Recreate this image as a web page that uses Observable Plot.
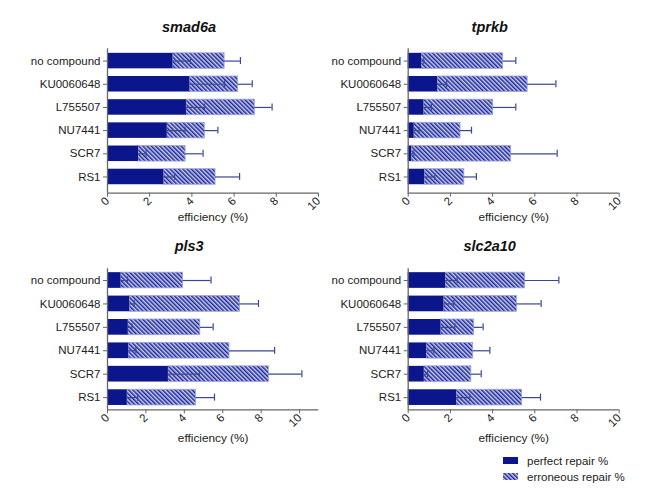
<!DOCTYPE html>
<html><head><meta charset="utf-8">
<script src="https://cdn.jsdelivr.net/npm/d3@7"></script>
<script src="https://cdn.jsdelivr.net/npm/@observablehq/plot@0.6"></script>
<style>
body{margin:0;background:#fff;font-family:"Liberation Sans",Arial,Helvetica,sans-serif;}
#root{position:relative;width:672px;height:491px;overflow:hidden;background:#fff;}
.panel{position:absolute;overflow:visible !important;}
.lg{position:absolute;font-size:11.5px;color:#222;line-height:14px;white-space:nowrap;}
.sw{position:absolute;width:15px;height:7px;}
</style></head><body>
<svg width="0" height="0" style="position:absolute">
<defs><pattern id="hatch" patternUnits="userSpaceOnUse" width="3" height="3" patternTransform="rotate(-45)">
<rect width="3" height="3" fill="#cdd1f2"/><rect width="1.5" height="3" fill="#1a2596"/></pattern></defs></svg>
<div id="root"></div>
<script>
// ---- data ----
const categories = ["no compound","KU0060648","L755507","NU7441","SCR7","RS1"];
const genes = ["smad6a","tprkb","pls3","slc2a10"];
const seriesNames = ["perfect repair %","erroneous repair %"];
const xTicksTop = [0,2,4,6,8,10];
const xTicksPls3 = [0,2,4,6,8,10];

const perfect_smad6a   = [3.10, 3.90, 3.74, 2.83, 1.47, 2.67];
const erroneous_smad6a = [2.45, 2.29, 3.24, 1.78, 2.23, 2.45];
const perfectErr_smad6a   = [0.83, 1.65, 0.86, 0.84, 0.36, 0.51];
const erroneousErr_smad6a = [0.75, 0.67, 0.82, 0.62, 0.83, 1.14];

const perfect_tprkb   = [0.63, 1.39, 0.74, 0.28, 0.16, 0.78];
const erroneous_tprkb = [3.87, 4.27, 3.29, 2.20, 4.72, 1.88];
const perfectErr_tprkb   = [0.11, 0.43, 0.36, 0.24, 0.11, 0.48];
const erroneousErr_tprkb = [0.60, 1.34, 1.07, 0.52, 2.18, 0.57];

const perfect_pls3   = [0.70, 1.15, 1.08, 1.10, 3.17, 1.03];
const erroneous_pls3 = [3.23, 5.74, 3.75, 5.25, 5.23, 3.58];
const perfectErr_pls3   = [0.34, 0.24, 0.19, 0.38, 1.61, 0.54];
const erroneousErr_pls3 = [1.46, 0.97, 0.67, 2.35, 1.72, 0.96];

const perfect_slc2a10   = [1.77, 1.69, 1.55, 0.87, 0.76, 2.29];
const erroneous_slc2a10 = [3.77, 3.46, 1.58, 2.21, 2.23, 3.11];
const perfectErr_slc2a10   = [0.55, 0.47, 0.66, 0.35, 0.16, 0.63];
const erroneousErr_slc2a10 = [1.60, 1.15, 0.42, 0.79, 0.47, 0.87];

const dataByGene = {
  smad6a: [perfect_smad6a, erroneous_smad6a, perfectErr_smad6a, erroneousErr_smad6a],
  tprkb: [perfect_tprkb, erroneous_tprkb, perfectErr_tprkb, erroneousErr_tprkb],
  pls3: [perfect_pls3, erroneous_pls3, perfectErr_pls3, erroneousErr_pls3],
  slc2a10: [perfect_slc2a10, erroneous_slc2a10, perfectErr_slc2a10, erroneousErr_slc2a10]
};

// ---- layout ----
const NAVY = "#0c168c";
const ERR = "#3a4796";
const AXIS = "#666";
const FONT = "'Liberation Sans', Arial, Helvetica, sans-serif";
const layouts = [
  {gene:"smad6a", left:0,   top:0,   mL:107,  mR:18,   mT:48.3, mB:37.3, xMax:10, ticks:xTicksTop, yDom:[-0.53,5.70], labDy:24, titleDy:-21.5},
  {gene:"tprkb",  left:336, top:0,   mL:71.7, mR:53.3, mT:48.3, mB:37.3, xMax:10, ticks:xTicksTop, yDom:[-0.53,5.70], labDy:24, titleDy:-21.5},
  {gene:"pls3",   left:0,   top:220, mL:107,  mR:17.7, mT:48.3, mB:40.7, xMax:11, ticks:xTicksPls3, yDom:[-0.50,5.52], labDy:28, titleDy:-22.5},
  {gene:"slc2a10",left:336, top:220, mL:71.7, mR:53.3, mT:48.3, mB:40.7, xMax:10, ticks:xTicksTop, yDom:[-0.50,5.52], labDy:28, titleDy:-22.5}
];
const HALF = 0.335, CAP = 0.15;

const root = document.getElementById("root");
for (const L of layouts) {
  const [p, e, pe, ee] = dataByGene[L.gene];
  const rows = categories.map((c, i) => ({cat:c, i, perfect:p[i], total:p[i]+e[i], pErr:pe[i], tErr:ee[i]}));
  const plot = Plot.plot({
    width: 336, height: 230,
    marginLeft: L.mL, marginRight: L.mR, marginTop: L.mT, marginBottom: L.mB,
    style: {fontFamily: FONT, fontSize: "11.5px", color: "#222", background: "transparent", overflow: "visible"},
    x: {domain: [0, L.xMax], axis: null},
    y: {domain: [L.yDom[1], L.yDom[0]], axis: null},
    marks: [
      Plot.rectX(rows, {x1: "perfect", x2: "total", y1: d => d.i - HALF, y2: d => d.i + HALF, fill: "url(#hatch)", stroke: "#9aa1dc", strokeWidth: 0.8}),
      Plot.rectX(rows, {x1: 0, x2: "perfect", y1: d => d.i - HALF, y2: d => d.i + HALF, fill: NAVY}),
      Plot.ruleY(rows, {y: "i", x1: "perfect", x2: d => d.perfect + d.pErr, stroke: ERR, strokeWidth: 1.2}),
      Plot.ruleX(rows, {x: d => d.perfect + d.pErr, y1: d => d.i - CAP, y2: d => d.i + CAP, stroke: ERR, strokeWidth: 1.2}),
      Plot.ruleY(rows, {y: "i", x1: "total", x2: d => d.total + d.tErr, stroke: ERR, strokeWidth: 1.2}),
      Plot.ruleX(rows, {x: d => d.total + d.tErr, y1: d => d.i - CAP, y2: d => d.i + CAP, stroke: ERR, strokeWidth: 1.2}),
      Plot.ruleX([0], {stroke: AXIS, strokeWidth: 1.3}),
      Plot.ruleY([L.yDom[1]], {stroke: AXIS, strokeWidth: 1.3}),
      Plot.axisY({ticks: categories.map((c, i) => i), tickFormat: i => categories[i], tickSize: 4, tickPadding: 3, stroke: AXIS, fontSize: 11.5, fill: "#222", label: null}),
      Plot.axisX({ticks: L.ticks, tickSize: 4, tickRotate: -45, tickPadding: 2, stroke: AXIS, fontSize: 11.5, fill: "#222", label: null}),
      Plot.text(["efficiency (%)"], {frameAnchor: "bottom", lineAnchor: "middle", dy: L.labDy, fontSize: 11.8, fill: "#222"}),
      Plot.text([L.gene], {frameAnchor: "top", lineAnchor: "middle", dy: L.titleDy, dx: -24, fontSize: 14.5, fontWeight: "bold", fontStyle: "italic", fill: "#111"})
    ]
  });
  plot.classList.add("panel");
  plot.style.left = L.left + "px";
  plot.style.top = L.top + "px";
  plot.style.overflow = "visible";
  root.appendChild(plot);
}

// legend
const legendFills = [NAVY, "url(#hatch)"];
seriesNames.forEach((name, k) => {
  const y = 457 + k * 16;
  const sw = document.createElementNS("http://www.w3.org/2000/svg", "svg");
  sw.setAttribute("width", 15); sw.setAttribute("height", 7);
  sw.setAttribute("class", "sw");
  sw.style.left = "503px"; sw.style.top = y + "px";
  const r = document.createElementNS("http://www.w3.org/2000/svg", "rect");
  r.setAttribute("width", 15); r.setAttribute("height", 7); r.setAttribute("fill", legendFills[k]);
  sw.appendChild(r);
  root.appendChild(sw);
  const t = document.createElement("div");
  t.className = "lg"; t.textContent = name;
  t.style.left = "527px"; t.style.top = (y - 3.5) + "px";
  root.appendChild(t);
});
</script>
</body></html>
